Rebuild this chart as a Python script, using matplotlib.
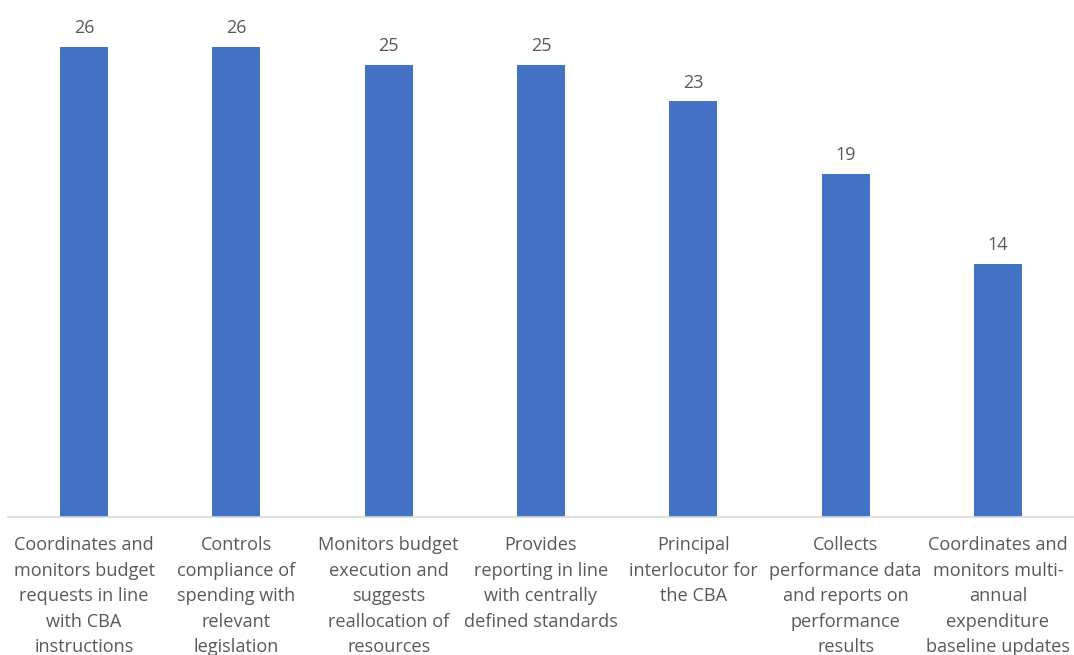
import matplotlib
matplotlib.use('Agg')
import matplotlib.pyplot as plt
import numpy as np

plt.rcParams['font.family'] = ['Open Sans', 'DejaVu Sans']

labels = ['Coordinates and\nmonitors budget\nrequests in line\nwith CBA\ninstructions',
          'Controls\ncompliance of\nspending with\nrelevant\nlegislation',
          'Monitors budget\nexecution and\nsuggests\nreallocation of\nresources',
          'Provides\nreporting in line\nwith centrally\ndefined standards',
          'Principal\ninterlocutor for\nthe CBA',
          'Collects\nperformance data\nand reports on\nperformance\nresults',
          'Coordinates and\nmonitors multi-\nannual\nexpenditure\nbaseline updates']
values = [26, 26, 25, 25, 23, 19, 14]

bar_color = '#4472C4'
text_color = '#595959'

fig = plt.figure(figsize=(10.74, 6.55), dpi=100)
ax = fig.add_axes([8 / 1074, 1 - 517 / 655, 1 - 8 / 1074, 517 / 655 - 11 / 655])

x = np.arange(len(values))
bars = ax.bar(x, values, width=0.315, color=bar_color, zorder=2)
for xi, v in zip(x, values):
    ax.annotate(str(v), (xi, v), xytext=(0, 7), textcoords='offset points',
                ha='center', va='bottom', fontsize=13, color=text_color)

ax.set_xlim(-0.5, len(values) - 0.5)
ax.set_ylim(0, 28)
ax.set_xticks(x)
ax.set_xticklabels(labels, fontsize=13.1, color=text_color, linespacing=1.53, va='top')
ax.tick_params(axis='x', length=0, pad=14)
ax.set_yticks([])
for s in ['top', 'right', 'left']:
    ax.spines[s].set_visible(False)
ax.spines['bottom'].set_color('#D9D9D9')
ax.spines['bottom'].set_linewidth(1.2)

plt.savefig('out.png', dpi=100)
